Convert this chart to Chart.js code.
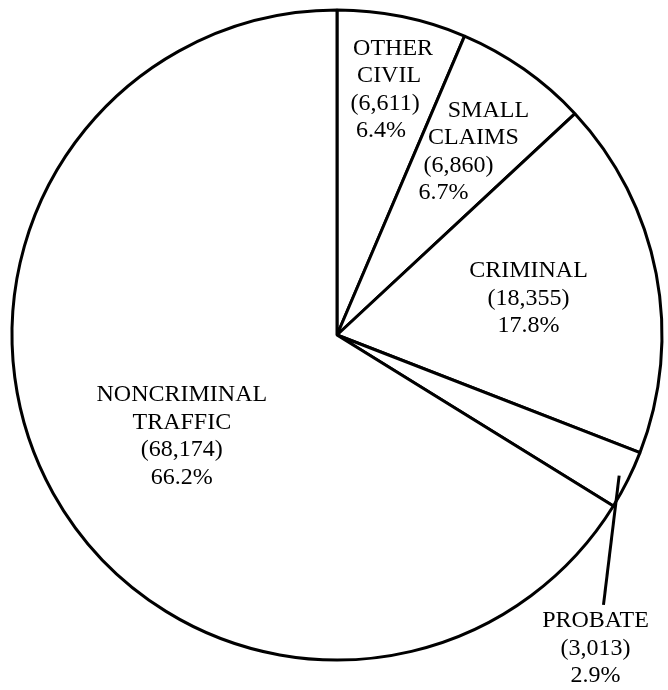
<!DOCTYPE html>
<html>
<head>
<meta charset="utf-8">
<script src="https://cdn.jsdelivr.net/npm/chart.js@4/dist/chart.umd.min.js"></script>
<style>
  html, body { margin: 0; padding: 0; background: #fff; }
  #wrap { width: 668px; height: 690px; }
</style>
</head>
<body>
<div id="wrap"><canvas id="c" width="668" height="690"></canvas></div>
<script>
// ---- data ----
const categories = ["OTHER CIVIL", "SMALL CLAIMS", "CRIMINAL", "PROBATE", "NONCRIMINAL TRAFFIC"];
const labelLines = [["OTHER", "CIVIL"], ["SMALL", "CLAIMS"], ["CRIMINAL"], ["PROBATE"], ["NONCRIMINAL", "TRAFFIC"]];
const caseCounts = [6611, 6860, 18355, 3013, 68174];

// ---- label placement (styling only) ----
const labelStyle = [
  { r: 0.77, da: 0,   slant: -4 },
  { r: 0.69, da: 0,   slant: -15 },
  { r: 0.60, da: 0,   slant: 0 },
  { r: 1.25, da: 24,  slant: 0, leader: true },
  { r: 0.57, da: -4,  slant: 0 }
];

const total = caseCounts.reduce((a, b) => a + b, 0);
const LINE_H = 27.5;
const FONT = '24px "Liberation Serif"';

const labelPlugin = {
  id: 'sliceLabels',
  afterDatasetsDraw(chart) {
    const ctx = chart.ctx;
    const meta = chart.getDatasetMeta(0);
    ctx.save();
    ctx.font = FONT;
    ctx.fillStyle = '#000';
    ctx.strokeStyle = '#000';
    ctx.textAlign = 'center';
    ctx.textBaseline = 'middle';
    meta.data.forEach((arc, i) => {
      const p = arc.getProps(['x', 'y', 'startAngle', 'endAngle', 'outerRadius'], true);
      const st = labelStyle[i];
      const mid = (p.startAngle + p.endAngle) / 2;
      const ang = mid + st.da * Math.PI / 180;
      const cx = p.x + Math.cos(ang) * st.r * p.outerRadius;
      const cy = p.y + Math.sin(ang) * st.r * p.outerRadius;
      const lines = labelLines[i].concat([
        '(' + caseCounts[i].toLocaleString('en-US') + ')',
        (caseCounts[i] / total * 100).toFixed(1) + '%'
      ]);
      const n = lines.length;
      const top = cy - (n - 1) * LINE_H / 2;
      const mOff = (n - 1) / 2;
      lines.forEach((t, k) => {
        ctx.fillText(t, cx + (k - mOff) * st.slant, top + k * LINE_H);
      });
      if (st.leader) {
        const r0 = 0.97 * p.outerRadius;
        const sx = p.x + Math.cos(mid) * r0;
        const sy = p.y + Math.sin(mid) * r0;
        ctx.beginPath();
        ctx.lineWidth = 3;
        ctx.moveTo(sx, sy);
        ctx.lineTo(cx + 8, top - 16);
        ctx.stroke();
      }
    });
    ctx.restore();
  }
};

new Chart(document.getElementById('c'), {
  type: 'pie',
  data: {
    labels: categories,
    datasets: [{
      data: caseCounts,
      backgroundColor: '#ffffff',
      borderColor: '#000000',
      borderWidth: 3,
      radius: 325
    }]
  },
  options: {
    responsive: false,
    animation: false,
    layout: { padding: { left: 12, right: 6, top: 10, bottom: 30 } },
    plugins: {
      legend: { display: false },
      tooltip: { enabled: false }
    }
  },
  plugins: [labelPlugin]
});
</script>
</body>
</html>
